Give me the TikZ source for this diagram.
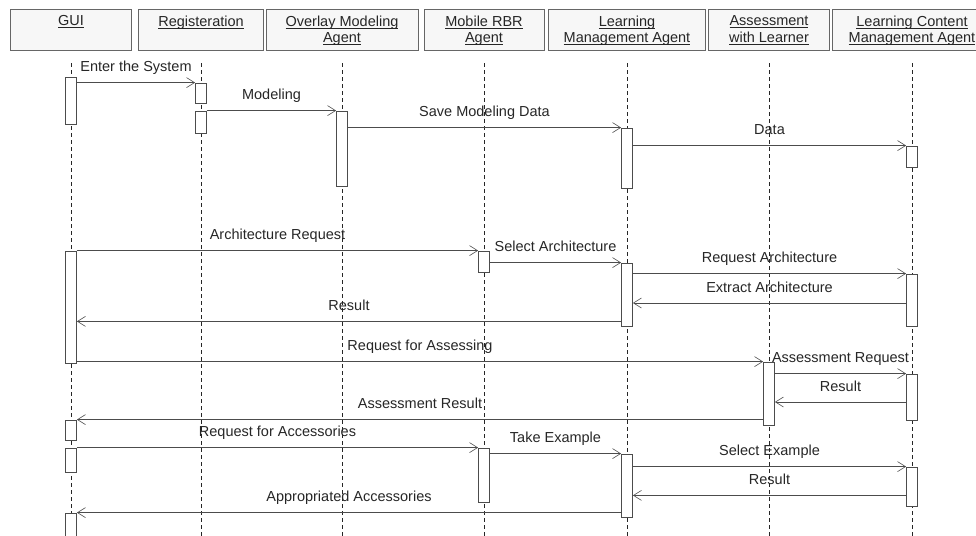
\documentclass[tikz,border=0pt]{standalone}
\usepackage{fontspec}
\setmainfont{Liberation Sans}
\usetikzlibrary{arrows.meta}
\newcommand{\hunder}[1]{\setbox0\hbox{#1}\rlap{\vrule width\wd0 height -1.3pt depth 2.2pt}\box0}

\begin{document}
\begin{tikzpicture}[x=1pt,y=-1pt,
  font=\fontsize{14.5}{17}\selectfont,
  head/.style={draw=black!60,fill=black!3,line width=0.8pt,minimum height=41pt,inner sep=0pt},
  htext/.style={anchor=north,align=center,inner sep=0pt,yshift=-7pt,text=black!85,
    font=\fontsize{14.5}{16.5}\selectfont},
  life/.style={draw=black!85,line width=0.8pt,dash pattern=on 4pt off 3pt},
  act/.style={draw=black!70,fill=white,line width=0.8pt,minimum width=11pt,inner sep=0pt},
  msg/.style={draw=black!70,line width=0.8pt,-{Straight Barb[length=8pt,width=10pt,line width=0.6pt]}},
  lbl/.style={midway,above,inner sep=0pt,yshift=7.5pt,text height=11pt,text depth=3pt,text=black!85}]
\useasboundingbox (0,0) rectangle (976,535);
\coordinate (bot) at (0,540);

\node[head, minimum width=121pt] (hG) at (71,29.5) {};
\node[htext] at (hG.north) {\hunder{GUI}};
\node[head, minimum width=125pt] (hR) at (201,29.5) {};
\node[htext] at (hR.north) {\hunder{Registeration}};
\node[head, minimum width=152pt] (hO) at (342,29.5) {};
\node[htext] at (hO.north) {\hunder{Overlay Modeling}\\\hunder{Agent}};
\node[head, minimum width=120pt] (hM) at (484,29.5) {};
\node[htext] at (hM.north) {\hunder{Mobile RBR}\\\hunder{Agent}};
\node[head, minimum width=157pt] (hL) at (627,29.5) {};
\node[htext] at (hL.north) {\hunder{Learning}\\\hunder{Management Agent}};
\node[head, minimum width=121pt] (hA) at (769,29.5) {};
\node[htext] at (hA.north) {\hunder{Assessment}\\\hunder{with Learner}};
\node[head, minimum width=160pt] (hC) at (912,29.5) {};
\node[htext] at (hC.north) {\hunder{Learning Content}\\\hunder{Management Agent}};

\draw[life] ([yshift=-13pt]hG.south) -- (hG.south |- bot);
\draw[life] ([yshift=-13pt]hR.south) -- (hR.south |- bot);
\draw[life] ([yshift=-13pt]hO.south) -- (hO.south |- bot);
\draw[life] ([yshift=-13pt]hM.south) -- (hM.south |- bot);
\draw[life] ([yshift=-13pt]hL.south) -- (hL.south |- bot);
\draw[life] ([yshift=-13pt]hA.south) -- (hA.south |- bot);
\draw[life] ([yshift=-13pt]hC.south) -- (hC.south |- bot);

\node[act, minimum height=47pt] (g1) at (71,100.5) {};
\node[act, minimum height=20pt] (r1) at (201,93) {};
\node[act, minimum height=22pt] (r2) at (201,122) {};
\node[act, minimum height=75pt] (o1) at (342,148.5) {};
\node[act, minimum height=60pt] (l1) at (627,158) {};
\node[act, minimum height=21pt] (c1) at (912,156.5) {};

\node[act, minimum height=112pt] (g2) at (71,307) {};
\node[act, minimum height=21pt] (m1) at (484,261.5) {};
\node[act, minimum height=63pt] (l2) at (627,294.5) {};
\node[act, minimum height=52pt] (c2) at (912,300) {};
\node[act, minimum height=63pt] (a1) at (769,393.5) {};
\node[act, minimum height=46pt] (c3) at (912,397) {};

\node[act, minimum height=20pt] (g3) at (71,430) {};
\node[act, minimum height=24pt] (g4) at (71,460) {};
\node[act, minimum height=54pt] (m2) at (484,475) {};
\node[act, minimum height=63pt] (l3) at (627,485.5) {};
\node[act, minimum height=39pt] (c4) at (912,486.5) {};
\node[act, minimum height=30pt] (g5) at (71,528) {};

\coordinate (ext) at ([yshift=-3pt]c2.west);
\coordinate (res1) at ([yshift=5pt]l2.south west);
\coordinate (res2) at ([yshift=-5pt]c3.west);
\coordinate (res3) at ([yshift=11pt]c4.south west);

\draw[msg] (g1.east |- r1.north) -- (r1.north west) node[lbl] {Enter the System};
\draw[msg] (r2.north east) -- (o1.north west) node[lbl] {Modeling};
\draw[msg] (o1.east |- l1.north) -- (l1.north west) node[lbl] {Save Modeling Data};
\draw[msg] (l1.east |- c1.north) -- (c1.north west) node[lbl] {Data};

\draw[msg] (g2.north east) -- (m1.north west) node[lbl] {Architecture Request};
\draw[msg] (m1.east |- l2.north) -- (l2.north west) node[lbl] {Select Architecture};
\draw[msg] (l2.east |- c2.north) -- (c2.north west) node[lbl] {Request Architecture};
\draw[msg] (ext) -- (l2.east |- ext) node[lbl] {Extract Architecture};
\draw[msg] (res1) -- (g2.east |- res1) node[lbl] {Result};
\draw[msg] (g2.east |- a1.north) -- (a1.north west) node[lbl] {Request for Assessing};
\draw[msg] (a1.east |- c3.north) -- (c3.north west) node[lbl] {Assessment Request};
\draw[msg] (res2) -- (a1.east |- res2) node[lbl] {Result};
\draw[msg] (a1.west |- g3.north) -- (g3.north east) node[lbl] {Assessment Result};

\draw[msg] (g4.north east) -- (m2.north west) node[lbl] {Request for Accessories};
\draw[msg] (m2.east |- l3.north) -- (l3.north west) node[lbl] {Take Example};
\draw[msg] (l3.east |- c4.north) -- (c4.north west) node[lbl] {Select Example};
\draw[msg] (res3) -- (l3.east |- res3) node[lbl] {Result};
\draw[msg] (l3.west |- g5.north) -- (g5.north east) node[lbl] {Appropriated Accessories};
\end{tikzpicture}
\end{document}
